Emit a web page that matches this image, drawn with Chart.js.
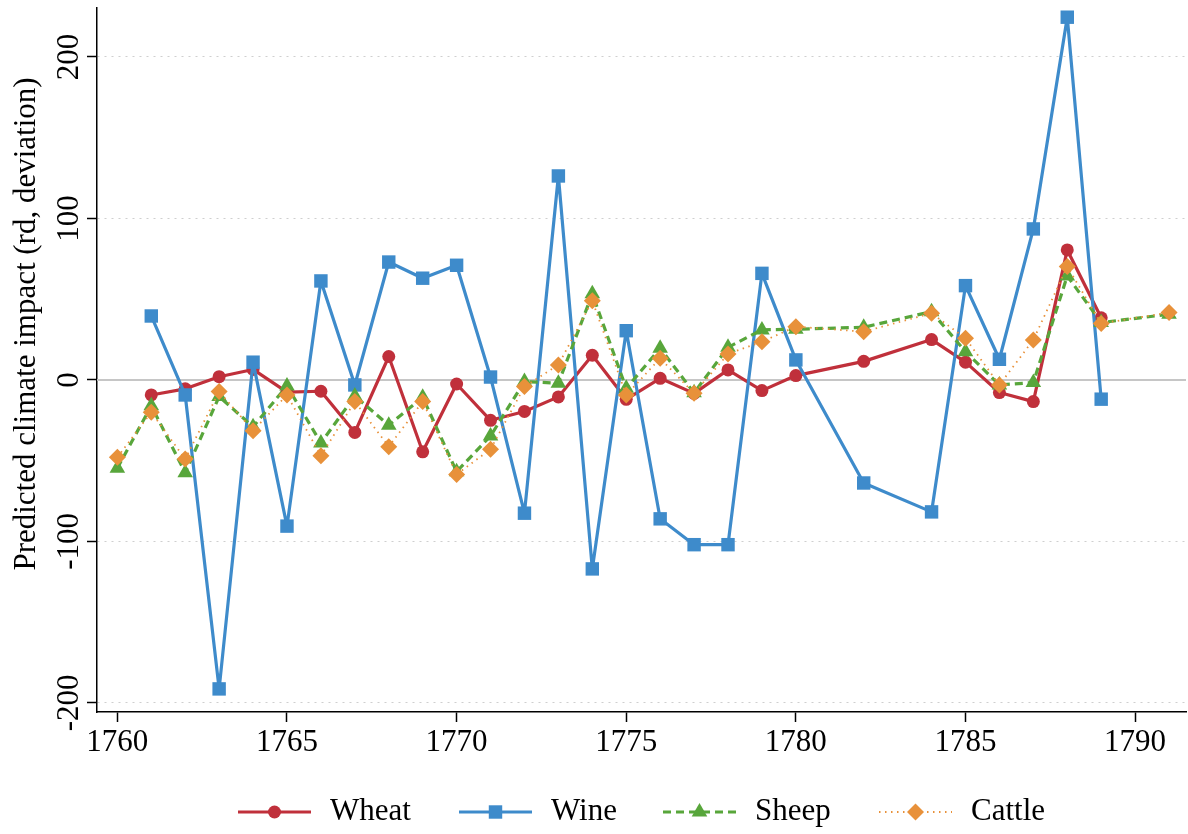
<!DOCTYPE html>
<html>
<head>
<meta charset="utf-8">
<title>Predicted climate impact</title>
<script src="https://cdn.jsdelivr.net/npm/chart.js@4.4.1/dist/chart.umd.min.js"></script>
<style>
    html, body { margin: 0; padding: 0; background: #fff; }
    #wrap { width: 1188px; height: 834px; }
</style>
</head>
<body>
<div id="wrap"><canvas id="chart" width="1188" height="834"></canvas></div>
<script>
// Years on the x axis (null = no observation that year)
const years = [1760, 1761, 1762, 1763, 1764, 1765, 1766, 1767, 1768, 1769,
               1770, 1771, 1772, 1773, 1774, 1775, 1776, 1777, 1778, 1779,
               1780, 1781, 1782, 1783, 1784, 1785, 1786, 1787, 1788, 1789,
               1790, 1791];

const wheat = [null, -9.3, -5.5, 2, 6.5, -7.5, -7, -32.5, 14.5, -44.5,
               -2.5, -25, -19.5, -10.5, 15.3, -12, 1, -8.3, 6.2, -6.6,
               2.7, null, 11.5, null, 25, 11, -7.8, -13.4, 80.5, 38.5,
               null, null];

const wine = [null, 39.6, -9.3, -191.3, 11, -90.5, 61.3, -3.1, 73, 63,
              71, 1.8, -82.5, 126.3, -117, 30.5, -86, -102, -102, 66,
              12.4, null, -63.8, null, -81.7, 58.4, 12.8, 93.5, 224.6, -11.9,
              null, null];

const sheep = [-54.6, -16, -57.4, -10.3, -29, -3.7, -39, -10, -28, -10.7,
               -56.8, -34.7, -1, -2, 53.3, -5.2, 19.6, -8, 20.2, 31,
               31.4, null, 32.6, null, 42.3, 17.5, -3.1, -1.6, 64.4, 35.5,
               null, 40.7];

const cattle = [-47.9, -20, -49, -7.2, -31.4, -9.3, -46.9, -13.4, -41.3, -13.4,
                -58.5, -42.9, -4.1, 9.3, 49, -9.3, 13.4, -8.3, 16.1, 23.7,
                33, null, 29.9, null, 41.3, 25.8, -3.1, 24.8, 70.2, 35,
                null, 41.7];

const xTicks = [1760, 1765, 1770, 1775, 1780, 1785, 1790];
const yTicks = [-200, -100, 0, 100, 200];
const yTitle = 'Predicted climate impact (rd, deviation)';

const FONT = "'Liberation Serif', 'Times New Roman', 'DejaVu Serif', serif";

// Build {x, y} points, skipping missing years
function toPoints(values) {
    const pts = [];
    years.forEach((yr, i) => {
        if (values[i] !== null) pts.push({ x: yr, y: values[i] });
    });
    return pts;
}

const series = [
    { label: 'Wheat', values: wheat, color: '#c0303b', dash: [], width: 3.2, style: 'circle', radius: 6.5, order: 4 },
    { label: 'Wine', values: wine, color: '#3e8bcb', dash: [], width: 3.2, style: 'rect', radius: 9.5, order: 3 },
    { label: 'Sheep', values: sheep, color: '#58a63b', dash: [8, 5], width: 3.2, style: 'triangle', radius: 9, order: 2 },
    { label: 'Cattle', values: cattle, color: '#e8913a', dash: [1.5, 4.5], width: 1.8, style: 'rectRot', radius: 8.5, order: 1 }
];

const datasets = series.map(s => ({
    label: s.label,
    data: toPoints(s.values),
    borderColor: s.color,
    backgroundColor: s.color,
    borderWidth: s.width,
    borderDash: s.dash,
    borderJoinStyle: 'round',
    pointStyle: s.style,
    pointRadius: s.radius,
    pointHoverRadius: s.radius,
    pointBorderWidth: 0,
    pointBackgroundColor: s.color,
    tension: 0,
    spanGaps: true,
    order: s.order
}));

// Extra drawing: zero line, rotated y labels, y title and the legend
const extras = {
    id: 'extras',
    beforeDatasetsDraw(chart) {
        const ctx = chart.ctx;
        const area = chart.chartArea;
        const y0 = chart.scales.y.getPixelForValue(0);
        ctx.save();
        ctx.strokeStyle = '#c6c6c6';
        ctx.lineWidth = 2;
        ctx.beginPath();
        ctx.moveTo(area.left, y0);
        ctx.lineTo(area.right, y0);
        ctx.stroke();
        ctx.restore();
    },
    afterDraw(chart) {
        const ctx = chart.ctx;
        const yScale = chart.scales.y;
        ctx.save();
        ctx.fillStyle = '#000';
        ctx.font = '31px ' + FONT;
        ctx.textAlign = 'center';
        ctx.textBaseline = 'middle';

        // y tick labels, rotated like the original
        yTicks.forEach(v => {
            const py = yScale.getPixelForValue(v);
            ctx.save();
            ctx.translate(70, py);
            ctx.rotate(-Math.PI / 2);
            ctx.fillText(String(v), 0, 0);
            ctx.restore();
        });

        // y title
        ctx.save();
        ctx.translate(27, 324);
        ctx.rotate(-Math.PI / 2);
        ctx.fillText(yTitle, 0, 0);
        ctx.restore();

        // legend
        const legendY = 812;
        const legendX = [238, 459, 663, 879];
        ctx.textAlign = 'left';
        series.forEach((s, i) => {
            const x1 = legendX[i];
            const x2 = x1 + 73;
            ctx.save();
            ctx.strokeStyle = s.color;
            ctx.lineWidth = s.width;
            ctx.setLineDash(s.dash);
            ctx.beginPath();
            ctx.moveTo(x1, legendY);
            ctx.lineTo(x2, legendY);
            ctx.stroke();
            ctx.restore();
            ctx.save();
            ctx.fillStyle = s.color;
            ctx.strokeStyle = s.color;
            Chart.helpers.drawPoint(ctx, { pointStyle: s.style, radius: s.radius, borderWidth: 0, rotation: 0 }, (x1 + x2) / 2, legendY);
            ctx.restore();
            ctx.fillText(s.label, x2 + 19, legendY);
        });
        ctx.restore();
    }
};

const ctx = document.getElementById('chart').getContext('2d');
const climateChart = new Chart(ctx, {
    type: 'line',
    data: { datasets: datasets },
    options: {
        responsive: false,
        animation: false,
        events: [],
        layout: { autoPadding: false, padding: { top: 8, right: 2, left: 0, bottom: 0 } },
        plugins: {
            legend: { display: false },
            tooltip: { enabled: false }
        },
        scales: {
            x: {
                type: 'linear',
                min: 1759.4,
                max: 1791.5,
                afterBuildTicks: axis => { axis.ticks = xTicks.map(v => ({ value: v })); },
                afterFit: axis => { axis.height = 122; },
                ticks: {
                    color: '#000',
                    padding: 2,
                    maxRotation: 0,
                    font: { family: FONT, size: 31 },
                    callback: value => String(value)
                },
                grid: {
                    drawOnChartArea: false,
                    drawTicks: true,
                    tickLength: 10,
                    tickWidth: 1.5,
                    tickColor: '#000'
                },
                border: { display: true, color: '#000', width: 1.5 }
            },
            y: {
                type: 'linear',
                min: -205.6,
                max: 230.3,
                afterBuildTicks: axis => { axis.ticks = yTicks.map(v => ({ value: v })); },
                afterFit: axis => { axis.width = 97; },
                ticks: { display: false },
                grid: {
                    drawOnChartArea: true,
                    drawTicks: true,
                    tickLength: 10,
                    tickWidth: 1.5,
                    tickColor: '#000',
                    tickBorderDash: [],
                    color: c => (c.tick && c.tick.value === 0) ? 'rgba(0,0,0,0)' : '#cfcfcf',
                    lineWidth: 1
                },
                border: { display: true, color: '#000', width: 1.5, dash: [2, 5] }
            }
        }
    },
    plugins: [extras]
});
</script>
</body>
</html>
